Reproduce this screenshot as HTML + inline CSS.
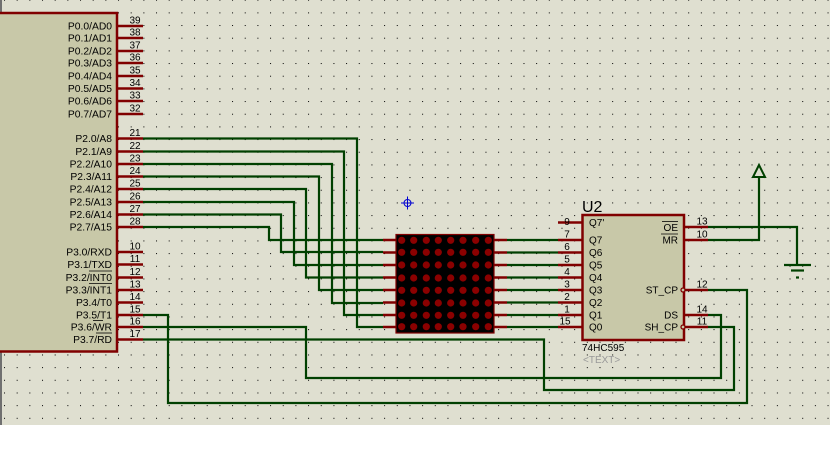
<!DOCTYPE html>
<html><head><meta charset="utf-8"><style>
html,body{margin:0;padding:0;background:#fff;}
svg{display:block;}
text{font-family:"Liberation Sans",Arial,sans-serif;fill:#000;}
</style></head><body>
<svg width="830" height="460" viewBox="0 0 830 460" xmlns="http://www.w3.org/2000/svg">
<defs>
<pattern id="g" x="4" y="-0.3" width="12.67" height="12.67" patternUnits="userSpaceOnUse">
<rect x="0" y="0" width="1" height="1" fill="#000"/>
</pattern>
</defs>
<rect x="0" y="0" width="830" height="425" fill="#dfdfd0"/>
<rect x="0" y="0" width="830" height="425" fill="url(#g)"/>
<rect x="0" y="0" width="2" height="425" fill="#707070"/>

<!-- MCU -->
<rect x="-5" y="13" width="122" height="338.5" fill="#c8c8a8" stroke="#800000" stroke-width="2.5"/>
<g stroke="#800000" stroke-width="2.5">
<line x1="117" y1="26" x2="143" y2="26"/><line x1="117" y1="38" x2="143" y2="38"/>
<line x1="117" y1="51" x2="143" y2="51"/><line x1="117" y1="63" x2="143" y2="63"/>
<line x1="117" y1="76" x2="143" y2="76"/><line x1="117" y1="88.5" x2="143" y2="88.5"/>
<line x1="117" y1="101" x2="143" y2="101"/><line x1="117" y1="114" x2="143" y2="114"/>
<line x1="117" y1="138.5" x2="143" y2="138.5"/><line x1="117" y1="151.5" x2="143" y2="151.5"/>
<line x1="117" y1="164" x2="143" y2="164"/><line x1="117" y1="176.5" x2="143" y2="176.5"/>
<line x1="117" y1="189" x2="143" y2="189"/><line x1="117" y1="202" x2="143" y2="202"/>
<line x1="117" y1="214.5" x2="143" y2="214.5"/><line x1="117" y1="227" x2="143" y2="227"/>
<line x1="117" y1="252" x2="143" y2="252"/><line x1="117" y1="264.5" x2="143" y2="264.5"/>
<line x1="117" y1="277.5" x2="143" y2="277.5"/><line x1="117" y1="290" x2="143" y2="290"/>
<line x1="117" y1="302.5" x2="143" y2="302.5"/><line x1="117" y1="315" x2="143" y2="315"/>
<line x1="117" y1="327" x2="143" y2="327"/><line x1="117" y1="339.5" x2="143" y2="339.5"/>
</g>
<g font-size="10.3" text-anchor="end">
<text x="112" y="29.5">P0.0/AD0</text><text x="112" y="41.5">P0.1/AD1</text>
<text x="112" y="54.5">P0.2/AD2</text><text x="112" y="66.5">P0.3/AD3</text>
<text x="112" y="79.5">P0.4/AD4</text><text x="112" y="92">P0.5/AD5</text>
<text x="112" y="104.5">P0.6/AD6</text><text x="112" y="117.5">P0.7/AD7</text>
<text x="112" y="142">P2.0/A8</text><text x="112" y="155">P2.1/A9</text>
<text x="112" y="167.5">P2.2/A10</text><text x="112" y="180">P2.3/A11</text>
<text x="112" y="192.5">P2.4/A12</text><text x="112" y="205.5">P2.5/A13</text>
<text x="112" y="218">P2.6/A14</text><text x="112" y="230.5">P2.7/A15</text>
<text x="112" y="255.5">P3.0/RXD</text><text x="112" y="268">P3.1/TXD</text>
<text x="112" y="281">P3.2/INT0</text><text x="112" y="293.5">P3.3/INT1</text>
<text x="112" y="306">P3.4/T0</text><text x="112" y="318.5">P3.5/T1</text>
<text x="112" y="330.5">P3.6/WR</text><text x="112" y="343">P3.7/RD</text>
</g>
<g stroke="#000" stroke-width="0.8">
<line x1="89" y1="271" x2="112" y2="271"/><line x1="89" y1="283.5" x2="112" y2="283.5"/>
<line x1="93" y1="320.5" x2="103" y2="320.5"/><line x1="96" y1="333" x2="112" y2="333"/>
</g>
<g font-size="10" text-anchor="middle">
<text x="135" y="23.5">39</text><text x="135" y="35.5">38</text><text x="135" y="48.5">37</text><text x="135" y="60.5">36</text>
<text x="135" y="73.5">35</text><text x="135" y="86">34</text><text x="135" y="98.5">33</text><text x="135" y="111.5">32</text>
<text x="135" y="136">21</text><text x="135" y="149">22</text><text x="135" y="161.5">23</text><text x="135" y="174">24</text>
<text x="135" y="186.5">25</text><text x="135" y="199.5">26</text><text x="135" y="212">27</text><text x="135" y="224.5">28</text>
<text x="135" y="249.5">10</text><text x="135" y="262">11</text><text x="135" y="275">12</text><text x="135" y="287.5">13</text>
<text x="135" y="300">14</text><text x="135" y="312.5">15</text><text x="135" y="324.5">16</text><text x="135" y="337">17</text>
</g>

<!-- wires -->
<g fill="none" stroke="#004000" stroke-width="2.2">
<polyline points="143,138.5 357,138.5 357,327 383,327"/>
<polyline points="143,151.5 344,151.5 344,315 383,315"/>
<polyline points="143,164 332,164 332,303 383,303"/>
<polyline points="143,176.5 319,176.5 319,290 383,290"/>
<polyline points="143,189 306,189 306,277.5 383,277.5"/>
<polyline points="143,202 294,202 294,265 383,265"/>
<polyline points="143,214.5 281,214.5 281,252 383,252"/>
<polyline points="143,227 269,227 269,240 383,240"/>
<line x1="507" y1="240" x2="558" y2="240"/><line x1="507" y1="252.5" x2="558" y2="252.5"/>
<line x1="507" y1="265" x2="558" y2="265"/><line x1="507" y1="277.5" x2="558" y2="277.5"/>
<line x1="507" y1="290" x2="558" y2="290"/><line x1="507" y1="302.5" x2="558" y2="302.5"/>
<line x1="507" y1="315" x2="558" y2="315"/><line x1="507" y1="327" x2="558" y2="327"/>
<polyline points="708,227 797,227 797,265"/>
<polyline points="708,240 759,240 759,177"/>
<polygon points="759,165 753,177 765,177" stroke-width="2"/>
<line x1="784" y1="265" x2="811" y2="265"/>
<line x1="791" y1="270.5" x2="804" y2="270.5"/>
<line x1="796" y1="277.5" x2="799" y2="277.5"/>
<polyline points="708,290 747,290 747,403 168,403 168,315 143,315"/>
<polyline points="708,315 721,315 721,378 306,378 306,327 143,327"/>
<polyline points="708,327 734,327 734,390 544,390 544,339.5 143,339.5"/>
</g>

<!-- matrix -->
<g stroke="#800000" stroke-width="2.5">
<line x1="383" y1="240" x2="396" y2="240"/><line x1="383" y1="252.5" x2="396" y2="252.5"/>
<line x1="383" y1="265" x2="396" y2="265"/><line x1="383" y1="277.5" x2="396" y2="277.5"/>
<line x1="383" y1="290" x2="396" y2="290"/><line x1="383" y1="302.5" x2="396" y2="302.5"/>
<line x1="383" y1="315" x2="396" y2="315"/><line x1="383" y1="327" x2="396" y2="327"/>
<line x1="494" y1="240" x2="507" y2="240"/><line x1="494" y1="252.5" x2="507" y2="252.5"/>
<line x1="494" y1="265" x2="507" y2="265"/><line x1="494" y1="277.5" x2="507" y2="277.5"/>
<line x1="494" y1="290" x2="507" y2="290"/><line x1="494" y1="302.5" x2="507" y2="302.5"/>
<line x1="494" y1="315" x2="507" y2="315"/><line x1="494" y1="327" x2="507" y2="327"/>
</g>
<rect x="396" y="234.5" width="98" height="98.5" fill="#000" stroke="#800000" stroke-width="1.2"/>
<g fill="#8b0000" id="dots">
</g>
<script>
(function(){var g=document.getElementById('dots');var xs=[401.7,413.7,426.3,438.3,450.7,463,475.7,488.3];var ys=[240.3,252.3,265,278,290.3,303,315.3,326.7];
var ns='http://www.w3.org/2000/svg';for(var i=0;i<8;i++)for(var j=0;j<8;j++){var c=document.createElementNS(ns,'circle');c.setAttribute('cx',xs[i]);c.setAttribute('cy',ys[j]);c.setAttribute('r',3.6);g.appendChild(c);}})();
</script>

<!-- crosshair -->
<g stroke="#0000d0" stroke-width="1" fill="none">
<circle cx="407.5" cy="203" r="3.5"/>
<line x1="401" y1="203" x2="414" y2="203"/><line x1="407.5" y1="196.5" x2="407.5" y2="209.5"/>
</g>

<!-- U2 -->
<g stroke="#800000" stroke-width="2.5">
<line x1="558" y1="222.5" x2="583" y2="222.5"/>
<line x1="558" y1="240" x2="583" y2="240"/><line x1="558" y1="252.5" x2="583" y2="252.5"/>
<line x1="558" y1="265" x2="583" y2="265"/><line x1="558" y1="277.5" x2="583" y2="277.5"/>
<line x1="558" y1="290" x2="583" y2="290"/><line x1="558" y1="302.5" x2="583" y2="302.5"/>
<line x1="558" y1="315" x2="583" y2="315"/><line x1="558" y1="327" x2="583" y2="327"/>
<line x1="684" y1="227" x2="708" y2="227"/><line x1="684" y1="240" x2="708" y2="240"/>
<line x1="684" y1="290" x2="708" y2="290"/><line x1="684" y1="315" x2="708" y2="315"/>
<line x1="684" y1="327" x2="708" y2="327"/>
</g>
<rect x="582.5" y="215" width="101.5" height="125" fill="#c8c8a8" stroke="#800000" stroke-width="2.5"/>
<circle cx="683" cy="290" r="2" fill="#c8c8a8" stroke="#800000" stroke-width="1.3"/>
<circle cx="683" cy="327" r="2" fill="#c8c8a8" stroke="#800000" stroke-width="1.3"/>
<text x="582" y="212" font-size="16">U2</text>
<g font-size="10">
<text x="589" y="226">Q7'</text><text x="589" y="243.5">Q7</text><text x="589" y="256">Q6</text>
<text x="589" y="268.5">Q5</text><text x="589" y="281">Q4</text><text x="589" y="293.5">Q3</text>
<text x="589" y="306">Q2</text><text x="589" y="318.5">Q1</text><text x="589" y="330.5">Q0</text>
</g>
<g font-size="10" text-anchor="end">
<text x="678" y="231">OE</text><text x="678" y="243.5">MR</text>
<text x="678" y="293.5">ST_CP</text><text x="678" y="318.5">DS</text><text x="678" y="330.5">SH_CP</text>
</g>
<g stroke="#000" stroke-width="0.8">
<line x1="662" y1="221.5" x2="678" y2="221.5"/><line x1="661" y1="234" x2="678" y2="234"/>
</g>
<g font-size="10" text-anchor="middle">
<text x="567" y="225">9</text><text x="567" y="237.5">7</text><text x="567" y="250">6</text>
<text x="567" y="262.5">5</text><text x="567" y="275">4</text><text x="567" y="287.5">3</text>
<text x="567" y="300">2</text><text x="567" y="312.5">1</text><text x="565" y="324.5">15</text>
<text x="702" y="224.5">13</text><text x="702" y="237.5">10</text><text x="702" y="287.5">12</text>
<text x="702" y="312.5">14</text><text x="702" y="324.5">11</text>
</g>
<text x="582" y="351" font-size="10">74HC595</text>
<text x="583" y="363" font-size="10" fill="#999" style="fill:#999">&lt;TEXT&gt;</text>
</svg>
</body></html>
